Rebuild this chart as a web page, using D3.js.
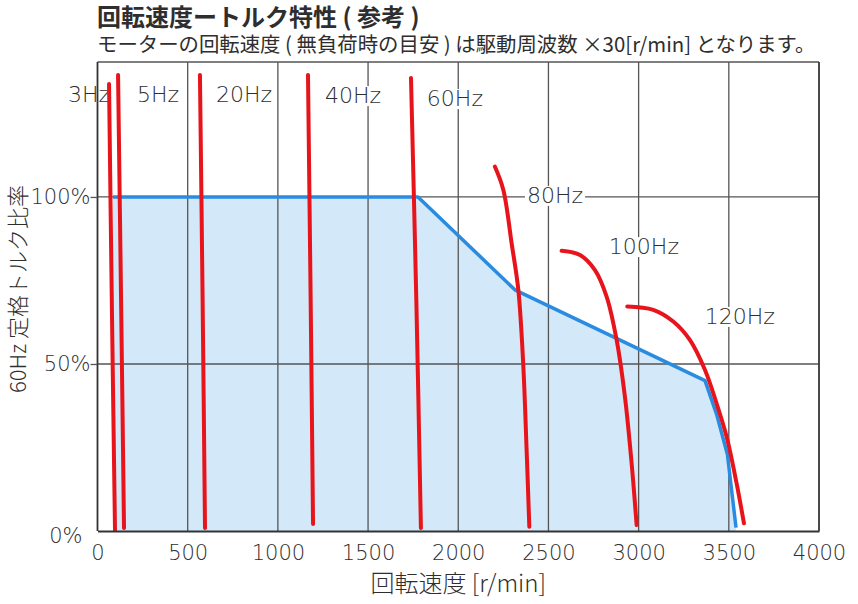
<!DOCTYPE html>
<html>
<head>
<meta charset="utf-8">
<script src="https://cdn.jsdelivr.net/npm/d3@7"></script>
<style>
  body { margin: 0; background: #fff; }
  svg text { font-family: "DejaVu Sans", "Noto Sans CJK JP", sans-serif; fill: #2e2e2e; }
  .jp { font-family: "Noto Sans CJK JP", "DejaVu Sans", sans-serif; }
  .thin { font-weight: 300; }
</style>
</head>
<body>
<svg class="chart" width="858" height="604"></svg>
<script>
// Frequencies (one red torque curve for each)
const freqs = ["3Hz", "5Hz", "20Hz", "40Hz", "60Hz", "80Hz", "100Hz", "120Hz"];

// Red curves: [speed r/min, torque %]
const curve3 = [[64, 133.8], [80, 66], [97, 0.3]];
const curve5 = [[114, 136.5], [131, 68], [147, 0.9]];
const curve20 = [[568, 136.5], [583, 68], [596, 0.9]];
const curve40 = [[1167, 136.5], [1182, 68], [1195, 2.1]];
const curve60 = [[1738, 135.6], [1768, 68], [1793, 0.9]];
const curve80 = [[2203, 109.1], [2250, 102.1], [2296, 86.1], [2333, 72.2], [2360, 50.2], [2379, 24.3], [2394, 1.3]];
const curve100 = [[2573, 83.9], [2675, 82.6], [2758, 78.1], [2823, 70.1], [2878, 57.2], [2924, 40.2], [2961, 20.4], [2989, 1.8]];
const curve120 = [[2937, 67.2], [3081, 66.2], [3192, 62.7], [3284, 57.2], [3368, 48.2], [3432, 38.2], [3488, 28.2], [3543, 14.3], [3584, 2.3]];
const curves = [curve3, curve5, curve20, curve40, curve60, curve80, curve100, curve120];

// Where each frequency label sits: [speed, torque %] of the text's left baseline
const labelAt = [[-164, 128.4], [219, 128.4], [657, 128.4], [1261, 128.1], [1826, 127.2], [2381, 98.2], [2835, 82.9], [3367, 62.0]];

// Blue envelope (60Hz rated torque ratio)
const envelope = [[86, 100], [1777, 100], [2314, 72.2], [3368, 45], [3432, 35], [3492, 23], [3540, 1]];

const xTicks = [0, 500, 1000, 1500, 2000, 2500, 3000, 3500, 4000];
const yTicks = [0, 50, 100];

const title = "回転速度ートルク特性 ( 参考 )";
const subtitle = "モーターの回転速度 ( 無負荷時の目安 ) は駆動周波数 ×30[r/min] となります。";
const xLabel = "回転速度 [r/min]";
const yLabel = "60Hz 定格トルク比率";

var svg = d3.select(".chart");

let margin = {left: 97.5, right: 39, top: 62, bottom: 73};
let innerWidth = 858 - margin.left - margin.right;
let innerHeight = 604 - margin.top - margin.bottom;

var xScale = d3.scaleLinear().domain([0, 4000]).range([0, innerWidth]);
var yScale = d3.scaleLinear().domain([0, 140.4]).range([innerHeight, 0]);

let g = svg.append('g')
           .attr('transform', `translate(${margin.left}, ${margin.top})`);

// light blue area under the envelope
let areaPts = [[envelope[0][0], 0]].concat(envelope, [[envelope[envelope.length - 1][0], 0]]);
g.append("path")
 .datum(areaPts)
 .attr("fill", "#d3e8f8")
 .attr("d", d3.line().x(d => xScale(d[0])).y(d => yScale(d[1])));

// grid
g.selectAll(".vgrid")
 .data(xTicks.slice(1))
 .enter()
 .append("line")
 .attr("x1", d => xScale(d)).attr("x2", d => xScale(d))
 .attr("y1", 0).attr("y2", innerHeight)
 .attr("stroke", "#555").attr("stroke-width", 1.3);

g.selectAll(".hgrid")
 .data([50, 100])
 .enter()
 .append("line")
 .attr("x1", 0).attr("x2", innerWidth)
 .attr("y1", d => yScale(d)).attr("y2", d => yScale(d))
 .attr("stroke", "#555").attr("stroke-width", 1.3);

// top border
g.append("line")
 .attr("x1", 0).attr("x2", innerWidth)
 .attr("y1", 0).attr("y2", 0)
 .attr("stroke", "#555").attr("stroke-width", 1.3);

// envelope line
g.append("path")
 .datum(envelope)
 .attr("fill", "none")
 .attr("stroke", "#2a8ce0")
 .attr("stroke-width", 3.5)
 .attr("stroke-linejoin", "round")
 .attr("d", d3.line().x(d => xScale(d[0])).y(d => yScale(d[1])));

// frequency labels, white box behind so grid lines get hidden
for (let i = 0; i < freqs.length; i++) {
	let t = g.append("text")
	 .attr("class", "thin")
	 .attr("x", xScale(labelAt[i][0]))
	 .attr("y", yScale(labelAt[i][1]))
	 .attr("font-size", 22)
	 .text(freqs[i]);
	let bb = t.node().getBBox();
	g.insert("rect", () => t.node())
	 .attr("x", bb.x - 2).attr("y", bb.y + 3)
	 .attr("width", bb.width + 4).attr("height", bb.height - 5)
	 .attr("fill", "#fff");
}

// red torque curves
for (let i = 0; i < curves.length; i++) {
	g.append("path")
	 .datum(curves[i])
	 .attr("fill", "none")
	 .attr("stroke", "#e8141c")
	 .attr("stroke-width", 4)
	 .attr("stroke-linecap", "round")
	 .attr("d", d3.line()
	    .x(d => xScale(d[0]))
	    .y(d => yScale(d[1]))
	    .curve(d3.curveCatmullRom));
}

// axes
let xAxis = g.append('g')
	.attr('transform', `translate(0, ${innerHeight})`)
	.call(d3.axisBottom(xScale).tickValues(xTicks).tickSize(0).tickPadding(14).tickFormat(d3.format("d")));
xAxis.select(".domain").attr("stroke", "#333").attr("stroke-width", 1.8);
xAxis.selectAll("text").attr("class", "thin").attr("font-size", 21).attr("fill", "#2e2e2e");

let yAxis = g.append('g')
	.call(d3.axisLeft(yScale).tickValues(yTicks).tickSize(7).tickPadding(0)
	        .tickFormat(d => d + "%"));
yAxis.select(".domain").attr("d", `M0,${innerHeight}V0`).attr("stroke", "#333").attr("stroke-width", 1.8);
yAxis.selectAll("line").attr("stroke", "#555").attr("stroke-width", 1.3);
yAxis.selectAll("text").attr("class", "thin").attr("font-size", 21).attr("fill", "#2e2e2e");
yAxis.selectAll(".tick").filter(d => d == 0).select("line").remove();
yAxis.selectAll(".tick").filter(d => d == 0).select("text").attr("x", -15).attr("dy", "0.55em");

// right border
g.append("line")
 .attr("x1", innerWidth).attr("x2", innerWidth)
 .attr("y1", 0).attr("y2", innerHeight)
 .attr("stroke", "#333").attr("stroke-width", 1.5);

// titles
svg.append("text")
 .attr("class", "jp")
 .attr("x", 97).attr("y", 26)
 .attr("font-size", 24).attr("font-weight", "bold")
 .attr("fill", "#222")
 .text(title);

svg.append("text")
 .attr("class", "jp")
 .attr("x", 97).attr("y", 52)
 .attr("font-size", 20.4)
 .text(subtitle);

svg.append("text")
 .attr("class", "jp thin")
 .attr("x", margin.left + xScale(2000)).attr("y", 592)
 .attr("text-anchor", "middle")
 .attr("font-size", 24)
 .text(xLabel);

svg.append("text")
 .attr("class", "jp thin")
 .attr("transform", "translate(26, 289) rotate(-90)")
 .attr("text-anchor", "middle")
 .attr("font-size", 22)
 .text(yLabel);
</script>
</body>
</html>
